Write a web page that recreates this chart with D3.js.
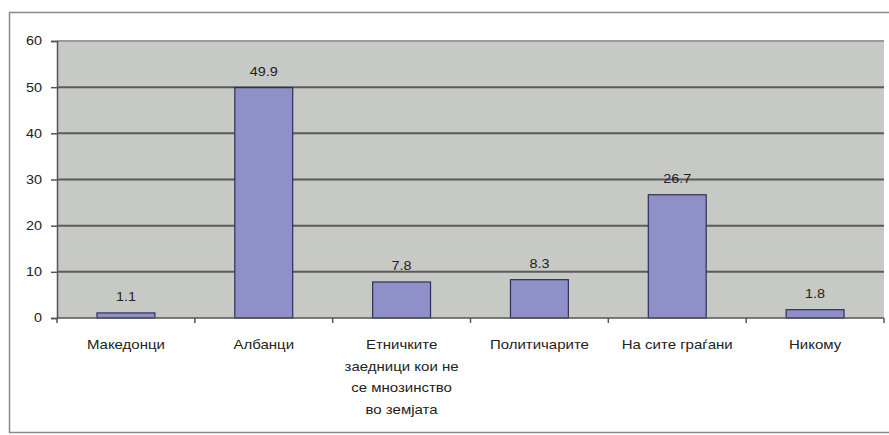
<!DOCTYPE html>
<html>
<head>
<meta charset="utf-8">
<script src="https://cdn.jsdelivr.net/npm/d3@7"></script>
<style>
  body { margin: 0; background: #fff; }
  text { font-family: "Liberation Sans", Arial, sans-serif; fill: #222; }
</style>
</head>
<body>
<div id="chart-container"></div>
<script>
// Chart data
const categories = ["Македонци", "Албанци", "Етничките\nзаедници кои не\nсе мнозинство\nво земјата", "Политичарите", "На сите граѓани", "Никому"];
const values = [1.1, 49.9, 7.8, 8.3, 26.7, 1.8];
const yTicks = [0, 10, 20, 30, 40, 50, 60];

// Dimensions
const width = 889;
const height = 435;
const marginTop = 41;
const marginRight = 5;
const marginBottom = 117;
const marginLeft = 57;
const stretch = 1.2; // the original text is a bit wide

const x = d3.scaleBand()
  .domain(categories)
  .range([marginLeft, width - marginRight])
  .paddingInner(0.58)
  .paddingOuter(0.29);

const y = d3.scaleLinear()
  .domain([0, 60])
  .range([height - marginBottom, marginTop]);

const svg = d3.create("svg")
  .attr("width", width)
  .attr("height", height)
  .attr("viewBox", [0, 0, width, height]);

// Outer chart border
svg.append("rect")
  .attr("x", 9.5)
  .attr("y", 12.5)
  .attr("width", width)
  .attr("height", 420)
  .attr("fill", "#fff")
  .attr("stroke", "#8a8a8a")
  .attr("stroke-width", 1.5);

// Plot background
svg.append("rect")
  .attr("x", marginLeft)
  .attr("y", marginTop)
  .attr("width", width - marginRight - marginLeft)
  .attr("height", height - marginBottom - marginTop)
  .attr("fill", "#c7c9c5");

// Gridlines
svg.append("g")
  .selectAll("line")
  .data(yTicks.filter(d => d > 0))
  .join("line")
  .attr("x1", marginLeft)
  .attr("x2", width - marginRight)
  .attr("y1", d => y(d))
  .attr("y2", d => y(d))
  .attr("stroke", d => d === 60 ? "#9a9a9a" : "#5a5a5a")
  .attr("stroke-width", 2);

// Bars
svg.append("g")
  .selectAll("rect")
  .data(values)
  .join("rect")
  .attr("x", (d, i) => x(categories[i]))
  .attr("y", d => y(d))
  .attr("width", x.bandwidth())
  .attr("height", d => y(0) - y(d))
  .attr("fill", "#8f90c9")
  .attr("stroke", "#2e2e5c")
  .attr("stroke-width", 1.2);

// Value labels
svg.append("g")
  .selectAll("text")
  .data(values)
  .join("text")
  .attr("transform", (d, i) => `translate(${x(categories[i]) + x.bandwidth() / 2},${y(d) - 12}) scale(${stretch},1)`)
  .attr("text-anchor", "middle")
  .attr("font-size", "12px")
  .text(d => d.toFixed(1));

// Y axis
const yAxis = svg.append("g")
  .attr("transform", `translate(${marginLeft},0)`)
  .call(d3.axisLeft(y).tickValues(yTicks).tickSize(6).tickPadding(9));
yAxis.select(".domain").attr("stroke", "#555").attr("stroke-width", 1.5);
yAxis.selectAll(".tick line").attr("stroke", "#555").attr("stroke-width", 1.5);
yAxis.selectAll(".tick text")
  .attr("font-size", "12px")
  .attr("font-family", "Liberation Sans, Arial, sans-serif")
  .attr("fill", "#222")
  .attr("transform", function() {
    const tx = +d3.select(this).attr("x");
    return `translate(${tx},0) scale(${stretch},1)`;
  })
  .attr("x", 0);

// X axis baseline and category tick marks
svg.append("line")
  .attr("x1", marginLeft)
  .attr("x2", width - marginRight)
  .attr("y1", y(0))
  .attr("y2", y(0))
  .attr("stroke", "#555")
  .attr("stroke-width", 1.5);

const step = x.step();
svg.append("g")
  .selectAll("line")
  .data(d3.range(categories.length + 1))
  .join("line")
  .attr("x1", i => marginLeft + i * step)
  .attr("x2", i => marginLeft + i * step)
  .attr("y1", y(0))
  .attr("y2", y(0) + 5)
  .attr("stroke", "#555")
  .attr("stroke-width", 1.5);

// Category labels (multi-line)
const labels = svg.append("g")
  .selectAll("text")
  .data(categories)
  .join("text")
  .attr("transform", d => `translate(${x(d) + x.bandwidth() / 2},${y(0) + 31}) scale(${stretch},1)`)
  .attr("text-anchor", "middle")
  .attr("font-size", "12.5px");

labels.selectAll("tspan")
  .data(d => d.split("\n"))
  .join("tspan")
  .attr("x", 0)
  .attr("dy", (d, i) => i === 0 ? 0 : 21.7)
  .text(d => d);

document.getElementById("chart-container").appendChild(svg.node());
</script>
</body>
</html>
